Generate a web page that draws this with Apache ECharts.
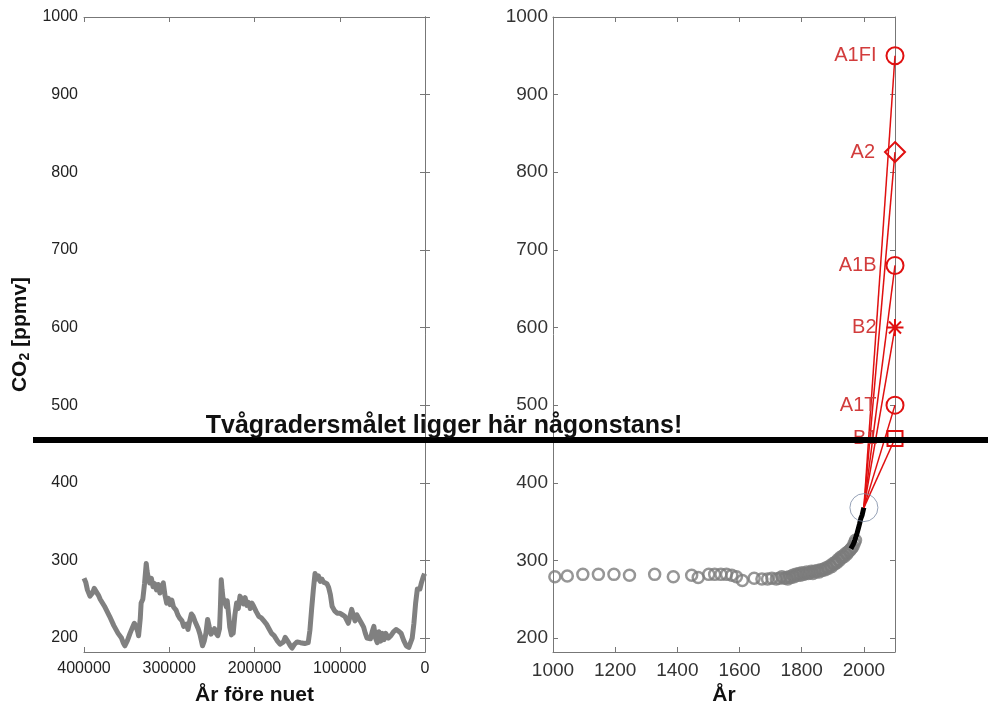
<!DOCTYPE html>
<html>
<head>
<meta charset="utf-8">
<script src="https://cdn.jsdelivr.net/npm/echarts@6/dist/echarts.min.js"></script>
<style>
html, body { margin: 0; padding: 0; background: #fff; }
#chart { width: 988px; height: 711px; }
</style>
</head>
<body>
<div id="chart"></div>
<script>
// Vostok ice core, years before present / CO2 ppmv
var vostokYears = [400000, 398000, 396000, 393000, 390000, 388000, 386000, 383000, 381000, 376000,
    370000, 365000, 360000, 356000, 354000, 352000, 349000, 346000, 343000, 341000,
    339000, 337000, 336000, 334000, 333000, 331000, 329000, 327000, 326000, 325000,
    323000, 321000, 319000, 317000, 315000, 313000, 311000, 309000, 307000, 305000,
    303000, 301000, 299000, 297000, 295000, 292000, 290000, 288000, 285000, 283000,
    280000, 278000, 276000, 274000, 272000, 270000, 268000, 266000, 264000, 261000,
    259000, 257000, 255000, 253000, 251000, 249000, 247000, 245000, 243000, 241000,
    240000, 239000, 238000, 237000, 235000, 233000, 232000, 230000, 229000, 227000,
    226000, 225000, 223000, 221000, 219000, 217000, 215000, 213000, 211000, 209000,
    207000, 205000, 203000, 201000, 198000, 195000, 192000, 189000, 186000, 183000,
    180000, 177000, 173000, 170000, 168000, 166000, 164000, 162000, 160000, 158000,
    156000, 153000, 150000, 146000, 141000, 137000, 135000, 133000, 131000, 129000,
    127000, 125000, 123000, 121000, 119000, 117000, 115000, 113000, 111000, 109000,
    106000, 103000, 100000, 97000, 94000, 92000, 90000, 88000, 86000, 84000,
    82000, 80000, 78000, 76000, 74000, 72000, 70000, 68000, 66000, 64000,
    62000, 60000, 58000, 56000, 54000, 52000, 50000, 48000, 46000, 43000,
    40000, 37000, 34000, 31000, 28000, 25000, 22000, 19000, 17000, 15000,
    13000, 11000, 9000, 8000, 6000, 4000, 2000, 500];
var vostokCO2 = [277, 272, 262, 254, 258, 264, 262, 255, 250, 241,
    228, 216, 206, 200, 194, 190, 197, 206, 214, 219,
    215, 208, 203, 225, 245, 250, 270, 296, 286, 280,
    271, 277, 266, 270, 262, 269, 258, 266, 271, 255,
    245, 251, 243, 249, 240, 236, 230, 226, 222, 215,
    218, 211, 222, 231, 228, 222, 224, 212, 205, 190,
    196, 206, 224, 214, 205, 203, 212, 206, 203, 212,
    240, 275, 262, 252, 250, 240, 248, 226, 214, 204,
    210, 206, 230, 245, 238, 254, 250, 244, 252, 242,
    246, 238, 245, 241, 234, 228, 226, 222, 218, 212,
    206, 203, 196, 192, 190, 195, 201, 199, 194, 190,
    187, 192, 195, 194, 193, 194, 210, 237, 262, 283,
    276, 280, 273, 276, 272, 274, 270, 265, 256, 241,
    235, 232, 232, 230, 228, 226, 219, 228, 237, 229,
    222, 230, 226, 228, 218, 214, 206, 200, 202, 199,
    208, 215, 200, 194, 208, 196, 206, 198, 206, 200,
    203, 208, 211, 209, 206, 197, 190, 188, 186, 200,
    219, 245, 263, 262, 263, 272, 279, 283];

// ice core points, last millennium
var iceYears = [1006, 1046, 1096, 1146, 1196, 1246, 1327, 1387, 1446, 1467,
    1501, 1520, 1540, 1558, 1575, 1590, 1609, 1647, 1672, 1690,
    1704, 1718, 1728, 1736, 1744, 1750, 1755, 1760, 1766, 1771,
    1776, 1781, 1786, 1791, 1796, 1801, 1806, 1811, 1816, 1821,
    1826, 1831, 1836, 1841, 1846, 1851, 1856, 1861, 1866, 1871,
    1876, 1881, 1886, 1891, 1896, 1901, 1905, 1909, 1913, 1917,
    1921, 1925, 1929, 1933, 1937, 1941, 1945, 1949, 1953, 1957,
    1961, 1965, 1969, 1973];
var iceCO2 = [279, 280, 282, 282, 282, 281, 282, 279, 281, 278,
    282, 282, 282, 282, 281, 279, 274, 277, 276, 276,
    277, 276, 277, 279, 277, 278, 276, 279, 278, 281,
    279, 282, 281, 283, 281, 284, 282, 283, 285, 283,
    284, 286, 283, 286, 285, 287, 285, 288, 287, 289,
    288, 291, 290, 293, 292, 296, 295, 298, 297, 301,
    300, 304, 303, 306, 305, 309, 308, 311, 312, 314,
    316, 318, 322, 326];

// direct measurements
var maunaYears = [1958, 1962, 1966, 1970, 1974, 1978, 1982, 1986, 1990, 1994, 1998, 2000];
var maunaCO2 = [315, 318, 321, 325, 330, 335, 341, 347, 354, 358, 365, 368];

// SRES scenarios, 2000 -> 2100
var scenarioNames = ['A1FI', 'A2', 'A1B', 'B2', 'A1T', 'B1'];
var scenarioCO2 = [950, 826, 680, 600, 500, 457];
var scenarioSymbols = ['circle', 'diamond', 'circle', 'asterisk', 'circle', 'rect'];
var startYear = 2000, startCO2 = 368, endYear = 2100;

var targetCO2 = 455;
var targetText = 'Tvågradersmålet ligger här någonstans!';

var FONT = '"Liberation Sans", Arial, Helvetica, sans-serif';
var axisColor = '#777';
var red = '#e01010';
var asteriskPath = 'path://M0,-10L0,10M-10,0L10,0M-7.07,-7.07L7.07,7.07M-7.07,7.07L7.07,-7.07';

function zip(a, b) {
    return a.map(function (v, i) { return [v, b[i]]; });
}
function plain(v) { return String(v); }

function boxAxis(extra) {
    var base = {
        type: 'value',
        axisLine: { show: true, lineStyle: { color: axisColor, width: 1 } },
        axisTick: { show: true, inside: true, length: 5, lineStyle: { color: axisColor } },
        splitLine: { show: false },
        axisLabel: { show: false }
    };
    return Object.assign(base, extra);
}

var yCommon = { min: 182, max: 1000, splitNumber: 8 };

var scenarioSeries = scenarioNames.map(function (name, i) {
    var sym = scenarioSymbols[i] === 'asterisk' ? asteriskPath : scenarioSymbols[i];
    var size = scenarioSymbols[i] === 'rect' ? 15 : (scenarioSymbols[i] === 'diamond' ? 20 : 17);
    return {
        type: 'line',
        name: name,
        xAxisIndex: 2,
        yAxisIndex: 2,
        z: 4,
        lineStyle: { color: red, width: 1.5 },
        data: [
            { value: [startYear, startCO2], symbol: 'none' },
            {
                value: [endYear, scenarioCO2[i]],
                symbol: sym,
                symbolSize: size,
                itemStyle: { color: 'rgba(0,0,0,0)', borderColor: red, borderWidth: 2 },
                label: {
                    show: true,
                    position: 'left',
                    distance: 9,
                    formatter: name,
                    color: '#d23c3c',
                    fontSize: 20,
                    fontFamily: FONT
                }
            }
        ]
    };
});

var chart = echarts.init(document.getElementById('chart'));
var option = {
    animation: false,
    backgroundColor: '#fff',
    textStyle: { fontFamily: FONT },
    grid: [
        { left: 84, top: 17, width: 341, height: 639 },
        { left: 553, top: 17, width: 342, height: 639 }
    ],
    xAxis: [
        boxAxis({
            gridIndex: 0, position: 'bottom', min: 0, max: 400000, interval: 100000, inverse: true,
            axisLabel: { show: true, margin: 9, color: '#222', fontSize: 16, fontFamily: FONT, formatter: plain },
            name: 'År före nuet', nameLocation: 'middle', nameGap: 33,
            nameTextStyle: { fontSize: 21, fontWeight: 'bold', color: '#111', fontFamily: FONT }
        }),
        boxAxis({ gridIndex: 0, position: 'top', min: 0, max: 400000, interval: 100000, inverse: true }),
        boxAxis({
            gridIndex: 1, position: 'bottom', min: 1000, max: 2100, interval: 200,
            axisLabel: { show: true, margin: 9, color: '#333', fontSize: 19, fontFamily: FONT,
                showMaxLabel: false, formatter: plain },
            name: 'År', nameLocation: 'middle', nameGap: 33,
            nameTextStyle: { fontSize: 21, fontWeight: 'bold', color: '#111', fontFamily: FONT }
        }),
        boxAxis({ gridIndex: 1, position: 'top', min: 1000, max: 2100, interval: 200 })
    ],
    yAxis: [
        boxAxis(Object.assign({
            gridIndex: 0, position: 'left',
            axisLabel: { show: true, margin: 6, color: '#222', fontSize: 16, fontFamily: FONT,
                showMinLabel: false, formatter: plain },
            name: '{a|CO}{b|2}{a| [ppmv]}', nameLocation: 'middle', nameGap: 52,
            nameTextStyle: {
                color: '#111',
                rich: {
                    a: { fontSize: 21, fontWeight: 'bold', fontFamily: FONT, color: '#111' },
                    b: { fontSize: 14, fontWeight: 'bold', fontFamily: FONT, color: '#111', padding: [10, 0, 0, 0] }
                }
            }
        }, yCommon)),
        boxAxis(Object.assign({ gridIndex: 0, position: 'right' }, yCommon)),
        boxAxis(Object.assign({
            gridIndex: 1, position: 'left',
            axisLabel: { show: true, margin: 5, color: '#333', fontSize: 19, fontFamily: FONT,
                showMinLabel: false, formatter: plain }
        }, yCommon)),
        boxAxis(Object.assign({ gridIndex: 1, position: 'right' }, yCommon))
    ],
    series: [
        {
            type: 'line',
            xAxisIndex: 0,
            yAxisIndex: 0,
            data: zip(vostokYears, vostokCO2),
            symbol: 'none',
            lineStyle: { color: '#808080', width: 5, join: 'round' }
        },
        {
            type: 'scatter',
            xAxisIndex: 2,
            yAxisIndex: 2,
            data: zip(iceYears, iceCO2),
            symbol: 'circle',
            symbolSize: 11,
            itemStyle: { color: 'rgba(0,0,0,0)', borderColor: '#7c7c7c', borderWidth: 2.5 }
        },
        {
            type: 'line',
            xAxisIndex: 2,
            yAxisIndex: 2,
            z: 3,
            data: zip(maunaYears, maunaCO2),
            symbol: 'none',
            lineStyle: { color: '#000', width: 5 }
        }
    ].concat(scenarioSeries).concat([
        {
            type: 'scatter',
            xAxisIndex: 2,
            yAxisIndex: 2,
            z: 5,
            data: [[startYear, startCO2]],
            symbol: 'circle',
            symbolSize: 28,
            itemStyle: { color: 'rgba(0,0,0,0)', borderColor: '#7d8ca6', borderWidth: 1 }
        }
    ])
};
chart.setOption(option);

// two-degree line crosses both panels
var yLine = chart.convertToPixel({ yAxisIndex: 0 }, targetCO2);
chart.setOption({
    graphic: [
        {
            type: 'line',
            z: 100,
            shape: { x1: 33, y1: yLine, x2: 988, y2: yLine },
            style: { stroke: '#000', lineWidth: 6 }
        },
        {
            type: 'text',
            z: 101,
            x: 444,
            y: yLine - 14,
            style: {
                text: targetText,
                fill: '#111',
                font: 'bold 25px ' + FONT,
                textAlign: 'center',
                textVerticalAlign: 'middle'
            }
        }
    ]
});
</script>
</body>
</html>
